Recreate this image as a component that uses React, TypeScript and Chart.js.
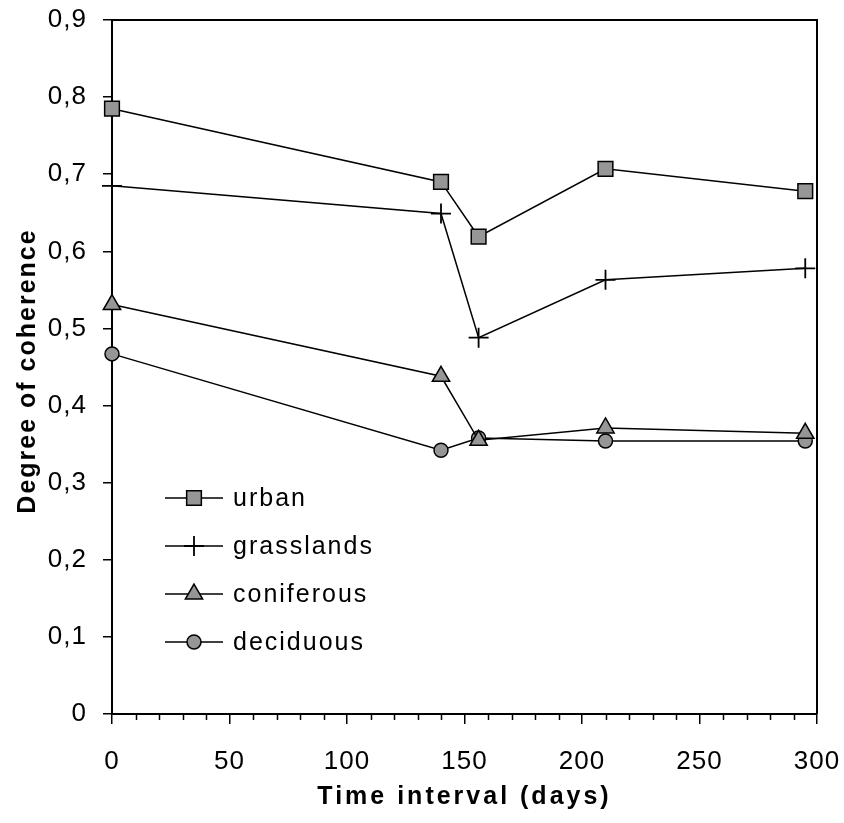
import React, { useEffect, useRef } from 'react';
import { Chart, registerables } from 'chart.js';

Chart.register(...registerables);

// ---- data ----
const xDays = [0, 140, 156, 210, 295];
const urban = [0.785, 0.69, 0.619, 0.707, 0.678];
const grasslands = [0.685, 0.649, 0.488, 0.563, 0.578];
const coniferous = [0.531, 0.438, 0.355, 0.371, 0.364];
const deciduous = [0.467, 0.342, 0.358, 0.354, 0.354];
const seriesNames = ['urban', 'grasslands', 'coniferous', 'deciduous'];
const yTickLabels = ['0', '0,1', '0,2', '0,3', '0,4', '0,5', '0,6', '0,7', '0,8', '0,9'];
const xTitle = 'Time interval (days)';
const yTitle = 'Degree of coherence';

const FONT = "'Liberation Sans', Arial, sans-serif";
const GREY = '#969696';

function drawMarker(ctx: CanvasRenderingContext2D, style: string, r: number, x: number, y: number, bw: number) {
  ctx.save();
  ctx.lineWidth = bw;
  ctx.strokeStyle = '#000';
  ctx.fillStyle = GREY;
  ctx.beginPath();
  if (style === 'rect') {
    const s = Math.SQRT1_2 * r;
    ctx.rect(x - s, y - s, 2 * s, 2 * s);
    ctx.fill();
    ctx.stroke();
  } else if (style === 'triangle') {
    ctx.moveTo(x, y - r);
    ctx.lineTo(x + Math.sin((2 * Math.PI) / 3) * r, y + r / 2);
    ctx.lineTo(x - Math.sin((2 * Math.PI) / 3) * r, y + r / 2);
    ctx.closePath();
    ctx.fill();
    ctx.stroke();
  } else if (style === 'circle') {
    ctx.arc(x, y, r, 0, Math.PI * 2);
    ctx.fill();
    ctx.stroke();
  } else if (style === 'cross') {
    ctx.moveTo(x - r, y);
    ctx.lineTo(x + r, y);
    ctx.moveTo(x, y - r);
    ctx.lineTo(x, y + r);
    ctx.stroke();
  }
  ctx.restore();
}

const TICK_SPACING = '1px';

const extras = {
  id: 'extras',
  beforeLayout(chart: any) {
    chart.ctx.letterSpacing = TICK_SPACING;
  },
  beforeDraw(chart: any) {
    chart.ctx.letterSpacing = TICK_SPACING;
  },
  afterDraw(chart: any) {
    const ctx: CanvasRenderingContext2D = chart.ctx;
    const { left, right, top, bottom } = chart.chartArea;
    const xs = chart.scales.x;
    ctx.save();
    // frame (top and right)
    ctx.strokeStyle = '#000';
    ctx.lineWidth = 2;
    ctx.beginPath();
    ctx.moveTo(left, top);
    ctx.lineTo(right, top);
    ctx.lineTo(right, bottom);
    ctx.stroke();
    // minor ticks on x
    ctx.lineWidth = 1.5;
    ctx.beginPath();
    for (let v = 10; v < 300; v += 10) {
      if (v % 50 === 0) continue;
      const px = Math.round(xs.getPixelForValue(v)) + 0.5;
      ctx.moveTo(px, bottom);
      ctx.lineTo(px, bottom + 6);
    }
    ctx.stroke();

    // axis titles
    ctx.fillStyle = '#000';
    ctx.font = `bold 25px ${FONT}`;
    ctx.letterSpacing = '3px';
    ctx.textAlign = 'center';
    ctx.textBaseline = 'middle';
    ctx.fillText(xTitle, (left + right) / 2, 797);
    ctx.save();
    ctx.translate(28, 371);
    ctx.rotate(-Math.PI / 2);
    ctx.letterSpacing = '2px';
    ctx.fillText(yTitle, 0, 0);
    ctx.restore();

    // legend
    ctx.font = `25px ${FONT}`;
    ctx.letterSpacing = '2px';
    ctx.textAlign = 'left';
    ctx.textBaseline = 'middle';
    chart.data.datasets.forEach((ds: any, i: number) => {
      const y = 498 + i * 48;
      ctx.strokeStyle = '#000';
      ctx.lineWidth = 1.5;
      ctx.beginPath();
      ctx.moveTo(165, y);
      ctx.lineTo(223, y);
      ctx.stroke();
      drawMarker(ctx, ds.pointStyle, ds.pointRadius, 194, y, ds.pointBorderWidth);
      ctx.fillStyle = '#000';
      ctx.fillText(ds.label, 233, y + 1);
    });
    ctx.restore();
    ctx.letterSpacing = TICK_SPACING;
  },
};

function mk(label: string, values: number[], pointStyle: string, pointRadius: number, bw: number) {
  return {
    label,
    data: xDays.map((x, i) => ({ x, y: values[i] })),
    borderColor: '#000',
    borderWidth: 1.5,
    pointStyle,
    pointRadius,
    pointHoverRadius: pointRadius,
    pointBackgroundColor: GREY,
    pointBorderColor: '#000',
    pointBorderWidth: bw,
    tension: 0,
    fill: false,
    clip: false,
  };
}

export default function App() {
  const ref = useRef<HTMLCanvasElement>(null);
  useEffect(() => {
    document.body.style.margin = '0';
    const canvas = ref.current!;
    const chart = new Chart(canvas, {
      type: 'line',
      data: {
        datasets: [
          mk(seriesNames[0], urban, 'rect', 10.4, 1.5),
          mk(seriesNames[1], grasslands, 'cross', 10, 1.8),
          mk(seriesNames[2], coniferous, 'triangle', 10, 1.5),
          mk(seriesNames[3], deciduous, 'circle', 7, 1.5),
        ],
      },
      options: {
        animation: false,
        responsive: false,
        devicePixelRatio: 1,
        layout: { padding: { top: 20, right: 27, left: 0, bottom: 0 } },
        plugins: { legend: { display: false }, tooltip: { enabled: false } },
        scales: {
          x: {
            type: 'linear',
            min: 0,
            max: 300,
            ticks: {
              stepSize: 50,
              color: '#000',
              font: { family: FONT, size: 26 },
              padding: 22,
              maxRotation: 0,
            },
            grid: { display: true, drawOnChartArea: false, drawTicks: true, tickLength: 10, color: '#000', lineWidth: 1.5 },
            border: { display: true, color: '#000', width: 2 },
            afterFit: (s: any) => {
              s.height = 109;
              s.paddingLeft = 0;
              s.paddingRight = 0;
            },
          },
          y: {
            type: 'linear',
            min: 0,
            max: 0.9,
            ticks: {
              stepSize: 0.1,
              color: '#000',
              font: { family: FONT, size: 26 },
              padding: 16,
              callback: (v: any) => yTickLabels[Math.round(Number(v) * 10)],
            },
            grid: { display: true, drawOnChartArea: false, drawTicks: true, tickLength: 9, color: '#000', lineWidth: 1.5 },
            border: { display: true, color: '#000', width: 2 },
            afterFit: (s: any) => {
              s.width = 112;
              s.paddingTop = 0;
              s.paddingBottom = 0;
            },
          },
        },
      } as any,
      plugins: [extras],
    });
    return () => chart.destroy();
  }, []);
  return <canvas ref={ref} width={844} height={823} style={{ display: 'block' }} />;
}
